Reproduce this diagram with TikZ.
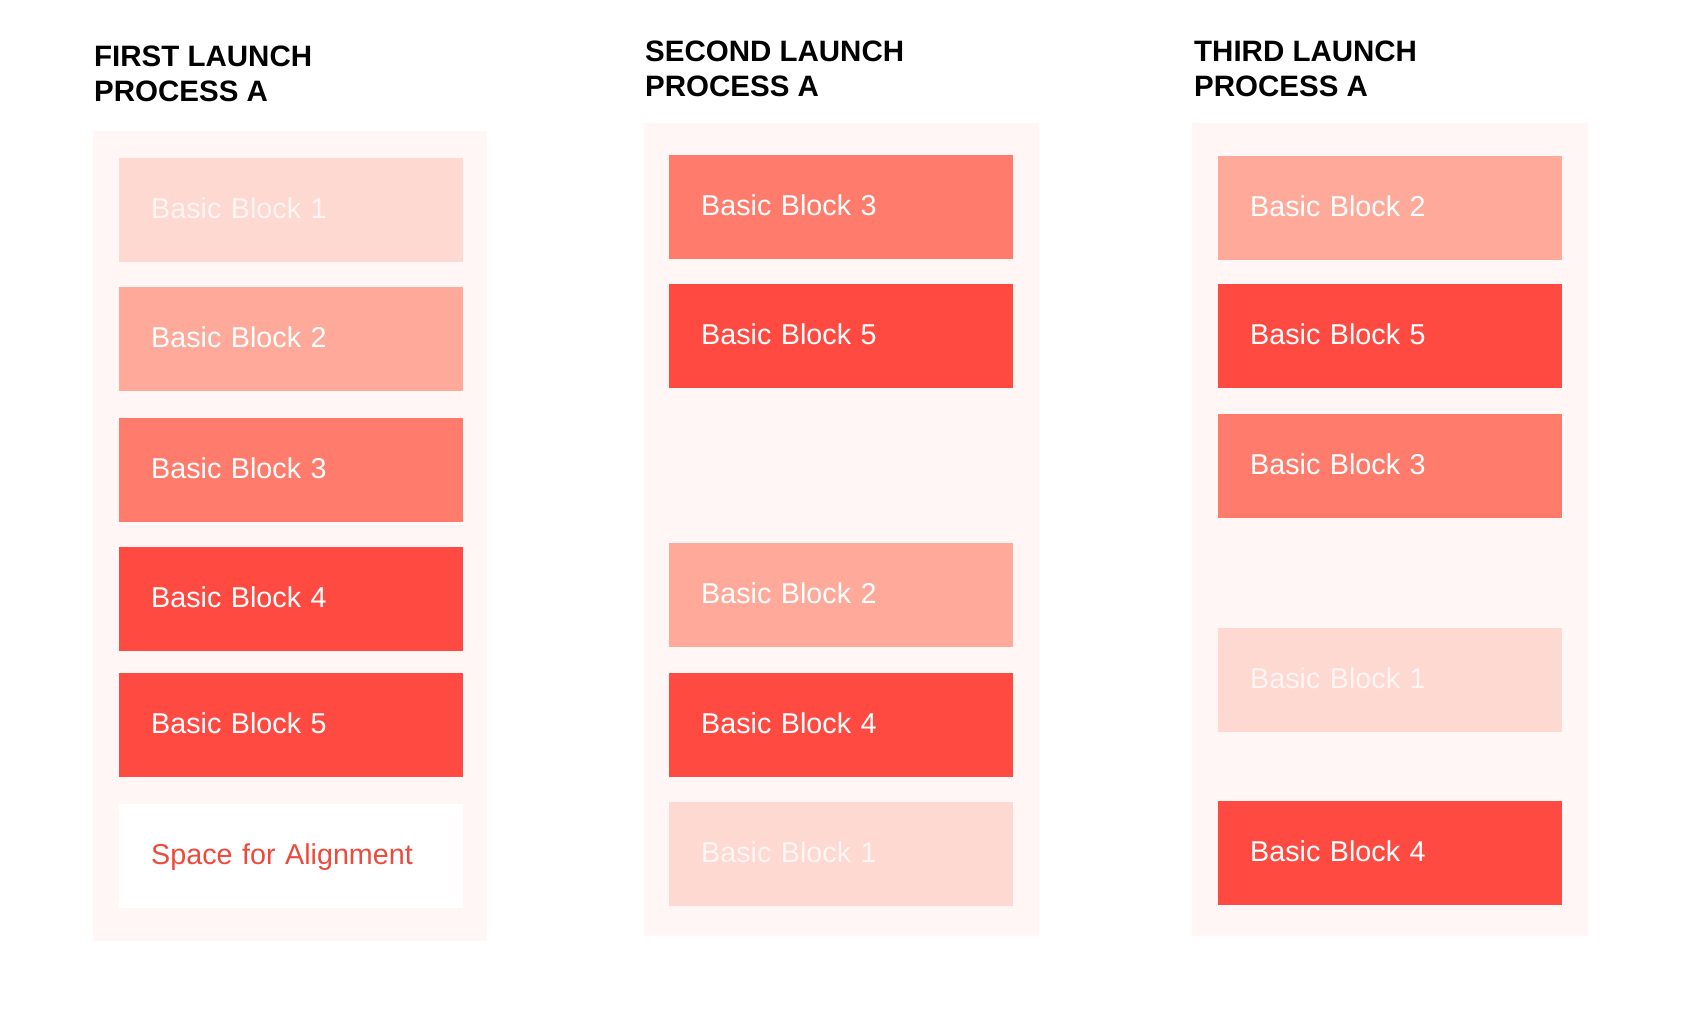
\documentclass[tikz,border=0pt]{standalone}
\usepackage{fontspec}
\setmainfont{Liberation Sans}
\definecolor{bgc}{HTML}{FFF6F5}
\definecolor{cA}{HTML}{FDD9D1}
\definecolor{cB}{HTML}{FFA99A}
\definecolor{cC}{HTML}{FF7C6C}
\definecolor{cD}{HTML}{FF4A41}
\definecolor{redtxt}{HTML}{EE4A3C}
\begin{document}
\begin{tikzpicture}[x=1pt,y=-1pt,
  container/.style={fill=bgc,draw=none},
  blk/.style={rectangle,draw=none,anchor=north west,inner xsep=32pt,inner ysep=0pt,
    text width=280pt,align=left,minimum height=104pt,text height=16.5pt,text depth=0pt,
    font=\fontsize{28.7}{34}\selectfont,text=white},
  bbA/.style={blk,fill=cA,text=white!96!red},
  bbB/.style={blk,fill=cB},
  bbC/.style={blk,fill=cC},
  bbD/.style={blk,fill=cD},
  spacebox/.style={blk,fill=white,text=redtxt},
  title/.style={anchor=base west,inner sep=0pt,align=left,font=\bfseries\fontsize{29.5}{35}\selectfont,text=black}]
\useasboundingbox[fill=white] (0,0) rectangle (1688,1016);
% containers
\fill[container] (93,131) rectangle (487,941);
\fill[container] (644,123) rectangle (1039,936);
\fill[container] (1192,123) rectangle (1588,936);
% titles (base anchor = baseline of last line)
\node[title] (t1) at (94,102) {FIRST LAUNCH\\PROCESS A};
\node[title] (t2) at (645,97) {SECOND LAUNCH\\PROCESS A};
\node[title] (t3) at (1194,97) {THIRD LAUNCH\\PROCESS A};
% column 1
\node[bbA] (a1) at (119,158) {Basic Block 1};
\node[bbB] (a2) at (119,287) {Basic Block 2};
\node[bbC] (a3) at (119,418) {Basic Block 3};
\node[bbD] (a4) at (119,547) {Basic Block 4};
\node[bbD] (a5) at (119,673) {Basic Block 5};
\node[spacebox] (a6) at (119,804) {Space for Alignment};
% column 2
\node[bbC] (b1) at (669,155) {Basic Block 3};
\node[bbD] (b2) at (669,284) {Basic Block 5};
\node[bbB] (b3) at (669,543) {Basic Block 2};
\node[bbD] (b4) at (669,673) {Basic Block 4};
\node[bbA] (b5) at (669,802) {Basic Block 1};
% column 3
\node[bbB] (c1) at (1218,156) {Basic Block 2};
\node[bbD] (c2) at (1218,284) {Basic Block 5};
\node[bbC] (c3) at (1218,414) {Basic Block 3};
\node[bbA] (c4) at (1218,628) {Basic Block 1};
\node[bbD] (c5) at (1218,801) {Basic Block 4};
\end{tikzpicture}
\end{document}
